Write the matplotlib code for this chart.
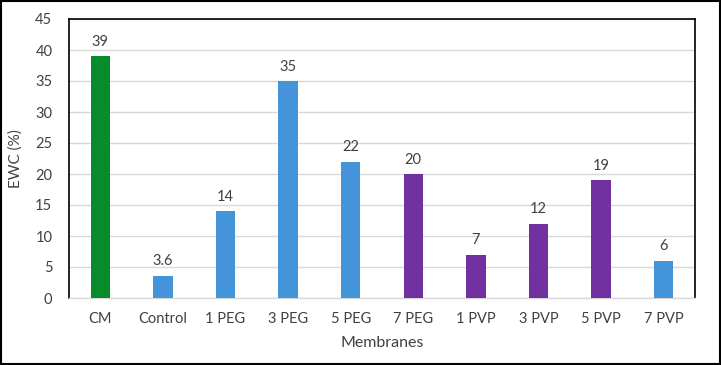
import matplotlib
matplotlib.use("Agg")
import matplotlib.pyplot as plt
from matplotlib.patches import Rectangle

categories = ["CM", "Control", "1 PEG", "3 PEG", "5 PEG", "7 PEG", "1 PVP", "3 PVP", "5 PVP", "7 PVP"]
values = [39, 3.6, 14, 35, 22, 20, 7, 12, 19, 6]
labels = ["39", "3.6", "14", "35", "22", "20", "7", "12", "19", "6"]
green, blue, purple = "#078B2B", "#4394D8", "#7030A0"
colors = [green, blue, blue, blue, blue, purple, purple, purple, purple, blue]

plt.rcParams['font.family'] = ['Lato', 'DejaVu Sans']

fig = plt.figure(figsize=(7.21, 3.65), dpi=100)
ax = fig.add_axes([69/721, 1-298/365, 626/721, (298-19)/365])

x = list(range(len(categories)))
bars = ax.bar(x, values, width=0.31, color=colors, zorder=3)
for xi, v, lab in zip(x, values, labels):
    ax.text(xi, v + 1.2, lab, ha='center', va='bottom', fontsize=10.5, color='#404040')

ax.set_xlim(-0.5, len(categories) - 0.5)
ax.set_ylim(0, 45)
ax.set_yticks(range(0, 46, 5))
ax.set_xticks(x)
ax.set_xticklabels(categories)
ax.tick_params(axis='both', length=0, labelsize=10.5, labelcolor='#404040')
ax.tick_params(axis='x', pad=10)
ax.tick_params(axis='y', pad=12)
ax.yaxis.grid(True, color='#d9d9d9', linewidth=1, zorder=0)
ax.set_axisbelow(True)
for s in ['left', 'top', 'right']:
    ax.spines[s].set_color('black')
    ax.spines[s].set_linewidth(1.2)
ax.spines['bottom'].set_color('#d9d9d9')
ax.spines['bottom'].set_linewidth(1)
ax.set_xlabel("Membranes", fontsize=11.5, color='#404040', labelpad=7)
ax.set_ylabel("EWC (%)", fontsize=11, color='#404040', labelpad=9)

fig.patches.append(Rectangle((0.001, 0.002), 0.997, 0.995, transform=fig.transFigure,
                             fill=False, edgecolor='black', linewidth=1.5))
fig.savefig("out.png", dpi=100)
